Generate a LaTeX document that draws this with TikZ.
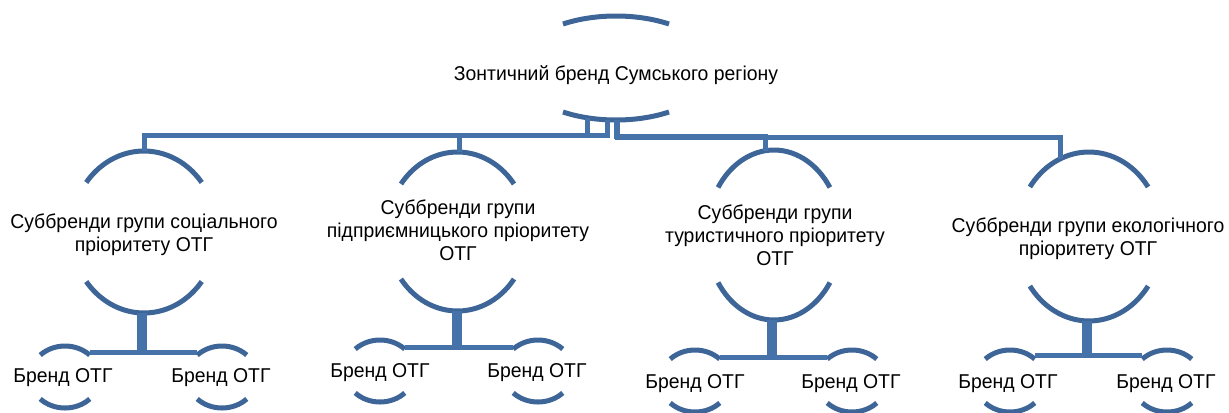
\documentclass[tikz,border=0pt]{standalone}
\usepackage{fontspec}
\setmainfont{Liberation Sans}[FakeStretch=0.97]
\usetikzlibrary{calc}

\definecolor{arcblue}{HTML}{3E6597}
\definecolor{linkblue}{HTML}{4672AA}

% Upper and lower arcs of an elliptic frame around a label.
% #1 centre, #2 x radius (px), #3 y radius (px), #4 half-angle where each arc ends
\newcommand\brandarcs[4]{%
  \pgfmathsetmacro\rxa{#2*0.75}%
  \pgfmathsetmacro\rya{#3*0.75}%
  \draw[arcline] (#1) ++(#4:\rxa pt and \rya pt)
    arc[start angle=#4, end angle=180-#4, x radius=\rxa pt, y radius=\rya pt];
  \draw[arcline] (#1) ++(-#4:\rxa pt and \rya pt)
    arc[start angle=-#4, end angle=-180+#4, x radius=\rxa pt, y radius=\rya pt];
}

\tikzset{
  arcline/.style={draw=arcblue, line width=3.75pt},
  link/.style={draw=linkblue, line width=3.75pt},
  brandtext/.style={font=\fontsize{15pt}{17.25pt}\selectfont, align=center,
    inner sep=0pt, text=black,
    execute at begin node=\strut, execute at end node=\strut},
}

\begin{document}
\begin{tikzpicture}[x=0.75pt, y=-0.75pt]
\useasboundingbox (0,0) rectangle (1229,412);

% ---------- umbrella brand ----------
\coordinate (Tc) at (616,68);
\node[brandtext] (T) at (616,75.4) {Зонтичний бренд Сумського регіону};
\brandarcs{Tc}{99.5}{52}{57.8}

% ---------- sub-brand groups ----------
\coordinate (C1c) at (144,232);
\coordinate (C2c) at (457.5,231.5);
\coordinate (C3c) at (774,235);
\coordinate (C4c) at (1089,236.5);
\node[brandtext] (C1) at (144,236) {Суббренди групи соціального\\пріоритету ОТГ};
\node[brandtext] (C2) at (458,233.4) {Суббренди групи\\підприємницького пріоритету\\ОТГ};
\node[brandtext] (C3) at (775,238.4) {Суббренди групи\\туристичного пріоритету\\ОТГ};
\node[brandtext] (C4) at (1088,240.4) {Суббренди групи екологічного\\пріоритету ОТГ};
\brandarcs{C1c}{73}{81}{37.7}
\brandarcs{C2c}{70.5}{79.5}{36.7}
\brandarcs{C3c}{67.5}{85}{34}
\brandarcs{C4c}{73}{84.5}{35.9}

% ---------- community brands ----------
\coordinate (G11c) at (65,377);   \coordinate (G12c) at (222,377);
\coordinate (G21c) at (380,371);  \coordinate (G22c) at (538,371);
\coordinate (G31c) at (695,381);  \coordinate (G32c) at (852,381);
\coordinate (G41c) at (1010,381); \coordinate (G42c) at (1167,381);
\node[brandtext] (G11) at (63,377.4)   {Бренд ОТГ};
\node[brandtext] (G12) at (221,377.4)  {Бренд ОТГ};
\node[brandtext] (G21) at (380,372.4)  {Бренд ОТГ};
\node[brandtext] (G22) at (537,372.4)  {Бренд ОТГ};
\node[brandtext] (G31) at (695,383.4)  {Бренд ОТГ};
\node[brandtext] (G32) at (851,383.4)  {Бренд ОТГ};
\node[brandtext] (G41) at (1008,383.4) {Бренд ОТГ};
\node[brandtext] (G42) at (1166,383.4) {Бренд ОТГ};
\foreach \g in {G11c,G12c,G21c,G22c,G31c,G32c,G41c,G42c}{
  \brandarcs{\g}{35}{31}{45}
}

% ---------- umbrella to sub-brands ----------
\coordinate (P1) at (587,118);
\coordinate (P2) at (607,119.5);
\coordinate (P3) at (616,120);
\coordinate (P4) at (617,120);
\coordinate (E1) at (144,151);
\coordinate (E2) at (459,152);
\coordinate (E3) at (765,151);
\coordinate (E4) at (1060,159);
\draw[link] (P1) -- ++(0,17.5) -| (E1);
\draw[link] (P2) -- ++(0,16)   -| (E2);
\draw[link] (P3) -- ++(0,16.5) -| (E3);
\draw[link] (P4) -- ++(0,17.5) -| (E4);

% ---------- sub-brands to community brands ----------
\coordinate (S1a) at (139.5,313);  \coordinate (S1b) at (144.5,313);
\coordinate (S2a) at (454.5,311);  \coordinate (S2b) at (459.5,311);
\coordinate (S3a) at (769.5,320);  \coordinate (S3b) at (774.5,320);
\coordinate (S4a) at (1084.5,321); \coordinate (S4b) at (1089.5,321);
\coordinate (H11) at (89.7,352.5);   \coordinate (H12) at (197.3,352.5);
\coordinate (H21) at (404.7,347);    \coordinate (H22) at (513.3,347);
\coordinate (H31) at (719.7,357);    \coordinate (H32) at (827.3,357);
\coordinate (H41) at (1034.7,355);   \coordinate (H42) at (1142.3,355);
\draw[link] (S1a) |- (H11);  \draw[link] (S1b) |- (H12);
\draw[link] (S2a) |- (H21);  \draw[link] (S2b) |- (H22);
\draw[link] (S3a) |- (H31);  \draw[link] (S3b) |- (H32);
\draw[link] (S4a) |- (H41);  \draw[link] (S4b) |- (H42);
\end{tikzpicture}
\end{document}
